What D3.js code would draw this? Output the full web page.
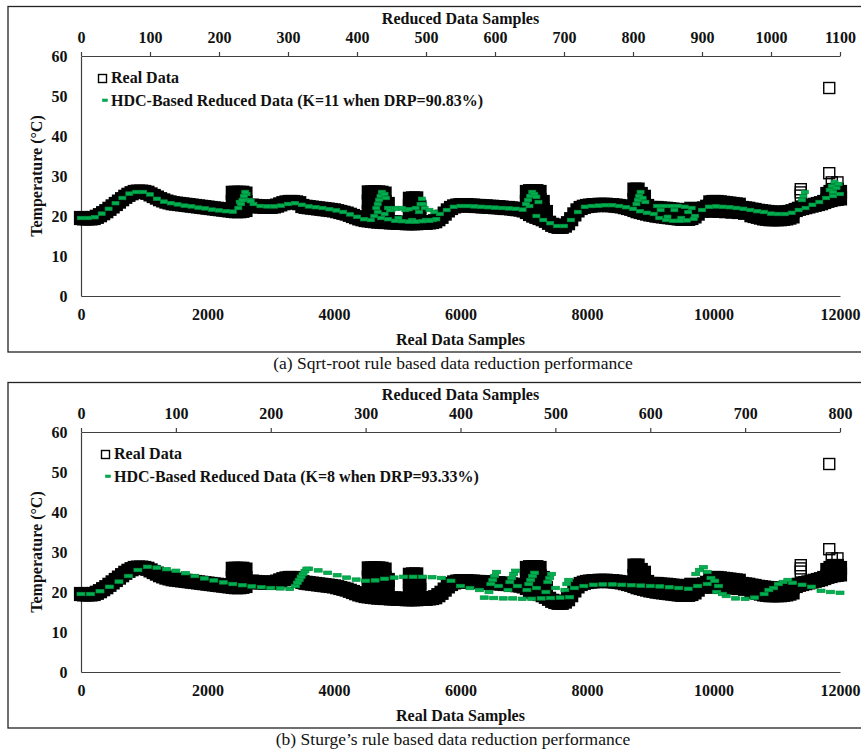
<!DOCTYPE html>
<html>
<head>
<meta charset="utf-8">
<script src="https://cdn.jsdelivr.net/npm/d3@7"></script>
<style>
  body { margin: 0; background: #fff; }
  svg { display: block; font-family: "Liberation Serif", "Times New Roman", serif; }
</style>
</head>
<body>
<div id="chart"></div>
<script>
// Real data, one reading every 50 samples (0 .. 12000).
const realStep = 50;
const realTemp = [
  19.5,19.4,19.4,19.4,19.5,19.8,20.2,20.7,21.2,21.8,22.4,23.0,23.6,24.2,24.8,25.3,25.7,26.0,26.1,26.1,
  26.0,25.8,25.4,25.0,24.6,24.2,23.9,23.6,23.4,23.2,23.1,23.0,22.9,22.8,22.7,22.6,22.5,22.4,22.3,22.2,
  22.1,22.0,21.9,21.8,21.7,21.6,21.5,21.4,21.3,21.2,21.2,21.3,21.5,22.5,22.6,22.5,22.4,22.4,22.3,22.3,
  22.3,22.4,22.6,22.9,23.2,23.4,23.5,23.5,23.4,23.2,22.5,22.3,22.2,22.1,22.0,21.9,21.8,21.7,21.6,21.5,
  21.4,21.2,21.0,20.8,20.6,20.3,20.0,19.7,19.4,19.2,19.0,18.9,18.8,18.7,18.6,18.6,18.5,18.5,18.4,18.4,
  18.3,18.3,18.3,18.2,18.2,18.2,18.2,18.3,18.3,18.3,18.4,18.5,18.7,19.2,19.8,20.6,21.4,22.0,22.4,22.6,
  22.7,22.7,22.7,22.6,22.6,22.5,22.5,22.4,22.4,22.3,22.3,22.2,22.2,22.1,22.0,22.0,21.9,21.8,21.7,21.6,
  21.4,21.0,20.5,20.1,19.8,19.5,19.2,18.8,18.3,17.8,17.5,17.3,17.3,17.6,18.2,19.2,20.4,21.4,22.0,22.3,
  22.5,22.6,22.7,22.7,22.8,22.8,22.8,22.7,22.7,22.6,22.5,22.4,22.2,22.0,21.8,21.5,21.2,21.0,20.8,20.6,
  20.4,20.3,20.1,20.0,19.9,19.8,19.7,19.6,19.5,19.4,19.3,19.3,19.3,19.5,19.9,20.6,21.3,21.9,22.3,22.5,
  22.6,22.6,22.5,22.5,22.4,22.4,22.3,22.2,22.1,22.0,21.9,21.8,21.6,21.5,21.3,21.2,21.1,21.0,20.9,20.8,
  20.8,20.8,20.8,20.9,21.0,21.2,21.5,21.8,22.0,22.2,22.4,22.6,22.8,23.0,23.2,23.5,23.8,24.0,24.2,24.3,
  24.4
];

// Extra real readings [sample, temp] where the signal swings between two levels.
const realBlocks = [
  [2400,23.5],[2400,25.8],[2450,23.5],[2450,25.8],[2500,23.5],[2500,25.8],
  [2550,23.5],[2550,25.8],[2600,23.5],[2600,25.6],
  [4550,21.0],[4550,23.5],[4550,25.9],[4600,21.0],[4600,23.5],[4600,25.9],
  [4650,21.0],[4650,23.5],[4650,25.9],[4700,21.0],[4700,23.5],[4700,25.9],
  [4750,21.0],[4750,23.5],[4750,25.8],[4800,21.0],[4800,23.5],[4800,25.6],
  [4850,21.0],[4850,23.0],
  [5200,20.5],[5200,22.5],[5200,24.3],[5250,20.5],[5250,22.5],[5250,24.4],
  [5300,20.5],[5300,22.5],[5300,24.4],[5350,20.5],[5350,22.3],
  [7050,23.5],[7050,26.0],[7100,22.5],[7100,24.5],[7100,26.2],[7150,22.0],[7150,24.0],[7150,26.2],
  [7200,22.0],[7200,24.0],[7200,26.2],[7250,22.0],[7250,24.0],[7250,26.0],
  [7300,21.5],[7300,23.5],[7350,21.0],
  [8750,24.0],[8750,26.6],[8800,23.5],[8800,26.6],[8850,23.0],[8850,25.5],
  [8900,22.8],[8900,24.8],[8950,22.5],
  [9000,22.0],[9050,22.0],[9100,22.0],[9150,21.9],[9200,21.8],[9250,21.8],[9300,21.7],
  [9350,21.6],[9400,21.5],[9450,21.5],[9500,21.4],[9550,21.4],[9600,21.5],[9650,21.8],
  [9950,23.4],[10000,23.5],[10050,23.5],[10100,23.4],[10150,23.3],[10200,23.2],[10250,23.1],
  [10300,23.0],[10350,22.9],[10400,22.8],
  [10000,21.3],[10100,21.3],[10200,21.2],[10300,21.1],[10400,21.0],[10500,20.8],
  [10600,20.2],[10650,20.0],[10700,19.8],[10750,19.6],[10800,19.4],[10850,19.3],[10900,19.2],
  [10950,19.2],[11000,19.2],[11050,19.2],[11100,19.3],[11150,19.4],[11200,19.6],[11250,19.9],
  [11800,25.5],[11850,26.0],[11900,26.5],[11950,26.5],[12000,26.0]
];
// Isolated real readings (drawn as open squares).
const realOutliers = [
  [11380,25.1],[11380,25.9],[11380,26.7],
  [11870,28.4],[11960,28.4],[11830,30.7],[11830,52.0]
];

// Reduced data (a), K=11: one reading every 10 reduced samples (0 .. 1100).
const reducedStep = 10;
const reducedTempA = [
  19.5,19.5,19.7,20.6,21.8,23.2,24.5,25.6,26.0,26.0,25.4,
  24.3,23.6,23.2,22.9,22.6,22.4,22.1,21.9,21.6,21.4,
  21.2,21.1,23.5,25.5,23.0,22.5,22.4,22.4,22.6,23.0,
  23.2,22.8,22.4,22.2,22.0,21.7,21.4,21.0,20.4,19.8,
  19.2,19.0,21.0,20.5,21.5,19.5,21.5,19.0,21.0,19.0,
  19.0,20.5,21.5,22.3,22.5,22.5,22.4,22.3,22.2,22.1,
  22.0,21.9,21.8,21.6,22.5,20.0,19.0,18.2,17.5,17.5,
  19.0,21.0,22.3,22.5,22.6,22.7,22.7,22.5,22.2,21.8,
  21.2,20.8,20.5,21.5,19.8,21.5,19.5,21.0,20.0,21.5,
  22.3,22.4,22.3,22.2,22.0,21.8,21.5,21.2,21.0,20.6,
  20.5,20.5,20.8,21.5,22.0,22.8,23.5,24.5,25.0,25.5
];
const reducedExtraA = [
  [228,22.0],[232,23.0],[234,24.0],[236,25.0],[238,26.0],[244,24.0],[246,23.7],
  [425,20.0],[428,22.0],[430,23.0],[432,24.0],[434,25.0],[436,26.0],[440,25.5],[442,24.5],
  [445,22.0],[448,21.5],[455,22.0],[458,21.8],[465,22.0],[475,21.7],[485,22.0],
  [492,23.0],[494,24.3],[496,23.0],[498,22.0],[505,21.5],[512,21.0],[515,19.2],
  [435,19.5],[445,19.2],[455,18.8],[465,18.7],[475,18.6],[485,18.6],[495,18.7],[505,18.8],
  [645,23.0],[648,24.0],[651,25.0],[654,26.0],[657,25.5],[660,24.8],[663,23.5],
  [805,23.0],[807,24.0],[809,25.0],[811,26.0],[814,24.5],[818,23.5],
  [835,22.5],[845,22.5],[855,22.5],[865,22.5],[875,22.3],[885,22.0],
  [838,19.5],[848,19.0],[858,18.8],[868,18.8],[878,18.9],[888,19.3],
  [1045,24.0],[1047,25.0],[1049,26.0],[1085,26.5],[1088,27.5],[1092,28.5],[1095,27.0],[1098,28.0],[1090,26.0]
];

// Reduced data (b), K=8: one reading every 10 reduced samples (0 .. 800).
const reducedTempB = [
  19.5,19.5,20.2,21.3,22.6,24.0,25.5,26.3,26.1,25.7,
  25.3,24.7,24.0,23.4,22.9,22.4,22.0,21.7,21.4,21.2,
  21.0,20.9,20.8,23.0,25.8,25.4,24.8,24.2,23.6,23.1,
  22.8,22.9,23.3,23.6,23.8,23.8,23.8,23.7,23.5,22.8,
  21.5,21.0,20.5,20.0,21.5,20.5,21.5,20.5,21.0,20.0,
  21.0,20.5,21.0,21.5,21.8,21.9,21.9,21.8,21.7,21.6,
  21.5,21.4,21.2,21.0,20.8,21.5,22.0,20.0,19.0,18.4,
  18.3,18.6,19.5,21.0,22.5,22.3,21.8,21.3,20.3,20.0,
  19.8
];
const reducedExtraB = [
  [226,21.5],[228,22.3],[232,23.8],[234,24.5],[236,25.2],[238,25.8],
  [425,18.6],[435,18.5],[445,18.4],[455,18.4],[465,18.3],[475,18.3],[485,18.4],[495,18.5],[505,18.6],[515,18.7],
  [432,22.0],[434,23.0],[436,24.0],[438,25.0],[452,22.5],[454,23.5],[456,24.5],[458,25.3],
  [472,22.0],[474,23.0],[476,24.0],[478,24.8],[492,22.5],[494,23.5],[496,24.5],[512,22.0],[514,23.0],
  [648,24.5],[652,25.5],[656,26.2],[660,25.0],[664,23.5],[668,22.8],[672,21.5],[676,19.5],
  [725,20.5],[735,22.0],[745,23.0]
];

// Tick labels.
const realTicks = [0, 2000, 4000, 6000, 8000, 10000, 12000];
const reducedTicksA = [0, 100, 200, 300, 400, 500, 600, 700, 800, 900, 1000, 1100];
const reducedTicksB = [0, 100, 200, 300, 400, 500, 600, 700, 800];
const tempTicks = [0, 10, 20, 30, 40, 50, 60];

const width = 861;
const height = 751;

const svg = d3.select("#chart").append("svg")
    .attr("width", width)
    .attr("height", height);

drawPanel({
    frameTop: 6.5, frameBottom: 352, top: 56, bottom: 296,
    reducedMax: 1100, reducedTicks: reducedTicksA,
    reducedTemp: reducedTempA, reducedExtra: reducedExtraA, dash: 7,
    legend: "HDC-Based Reduced Data (K=11 when DRP=90.83%)", legendX: 0,
    caption: "(a) Sqrt-root rule based data reduction performance"
});

drawPanel({
    frameTop: 382.5, frameBottom: 728, top: 432, bottom: 672,
    reducedMax: 800, reducedTicks: reducedTicksB,
    reducedTemp: reducedTempB, reducedExtra: reducedExtraB, dash: 8,
    legend: "HDC-Based Reduced Data (K=8 when DRP=93.33%)", legendX: 3,
    caption: "(b) Sturge\u2019s rule based data reduction performance"
});


/*
Draw one framed panel: two x axes (real / reduced samples), temperature axis, both series.
*/
function drawPanel(p) {
    const x = d3.scaleLinear().domain([0, 12000]).range([81, 840]);
    const xTop = d3.scaleLinear().domain([0, p.reducedMax]).range([81, 840]);
    const y = d3.scaleLinear().domain([0, 60]).range([p.bottom, p.top]);
    const fmt = d3.format("d");
    const g = svg.append("g");

    // Frame (its right edge lies outside the picture).
    g.append("rect")
        .attr("x", 8).attr("y", p.frameTop)
        .attr("width", 880).attr("height", p.frameBottom - p.frameTop)
        .attr("fill", "none").attr("stroke", "#222").attr("stroke-width", 1.3);

    // Axes.
    const bottomAxis = g.append("g")
        .attr("transform", `translate(0,${p.bottom})`)
        .call(d3.axisBottom(x).tickValues(realTicks).tickFormat(fmt).tickSize(0).tickPadding(13));
    const topAxis = g.append("g")
        .attr("transform", `translate(0,${p.top})`)
        .call(d3.axisTop(xTop).tickValues(p.reducedTicks).tickFormat(fmt)
            .tickSizeInner(4).tickSizeOuter(0).tickPadding(9.5));
    const leftAxis = g.append("g")
        .attr("transform", "translate(81,0)")
        .call(d3.axisLeft(y).tickValues(tempTicks).tickFormat(fmt).tickSize(0).tickPadding(13.5));

    [bottomAxis, topAxis, leftAxis].forEach(a => {
        a.attr("font-family", null).attr("font-size", null);
        a.selectAll("path, line").attr("stroke", "#404040").attr("stroke-width", 1.2);
        a.selectAll("text")
            .attr("fill", "#111")
            .style("font-size", "16px")
            .style("font-weight", "bold");
    });

    // Axis titles.
    const title = (sel) => sel.attr("fill", "#111").style("font-size", "16px").style("font-weight", "bold");
    g.append("text").attr("x", 460.5).attr("y", p.top - 32.5)
        .attr("text-anchor", "middle").text("Reduced Data Samples").call(title);
    g.append("text").attr("x", 460.5).attr("y", p.bottom + 48.5)
        .attr("text-anchor", "middle").text("Real Data Samples").call(title);
    g.append("text")
        .attr("transform", `translate(42,${(p.top + p.bottom) / 2}) rotate(-90)`)
        .attr("text-anchor", "middle").text("Temperature (\u00B0C)").call(title);

    // Real data: 12000 overlapping squares merge into a solid black band.
    const real = realTemp.map((t, i) => [i * realStep, t]).concat(realBlocks);
    g.append("g")
        .selectAll("rect")
        .data(real)
        .join("rect")
            .attr("x", d => x(d[0]) - 5.5)
            .attr("y", d => y(d[1]) - 5.5)
            .attr("width", 11)
            .attr("height", 11)
            .attr("fill", "#000")
            .attr("stroke", "#000")
            .attr("stroke-width", 3.2);

    g.append("g")
        .selectAll("rect")
        .data(realOutliers)
        .join("rect")
            .attr("x", d => x(d[0]) - 5.5)
            .attr("y", d => y(d[1]) - 5.5)
            .attr("width", 11)
            .attr("height", 11)
            .attr("fill", "none")
            .attr("stroke", "#000")
            .attr("stroke-width", 1.4);

    // Reduced data: green dashes, placed on the reduced-sample axis.
    const reduced = p.reducedTemp.map((t, i) => [i * reducedStep, t]).concat(p.reducedExtra);
    g.append("g")
        .selectAll("rect")
        .data(reduced)
        .join("rect")
            .attr("x", d => xTop(d[0]) - p.dash / 2)
            .attr("y", d => y(d[1]) - 1.75)
            .attr("width", p.dash)
            .attr("height", 3.5)
            .attr("fill", "#00b050")
            .attr("stroke", "#00923f")
            .attr("stroke-width", 0.7);

    // Legend.
    const lx = p.legendX;
    const ly = p.top;
    g.append("rect")
        .attr("x", 98.5 + lx).attr("y", ly + 18.5).attr("width", 8).attr("height", 8)
        .attr("fill", "#fff").attr("stroke", "#000").attr("stroke-width", 1.4);
    g.append("text").attr("x", 111 + lx).attr("y", ly + 27)
        .text("Real Data").call(title);
    g.append("rect")
        .attr("x", 102.5 + lx).attr("y", ly + 43).attr("width", 5).attr("height", 2.6)
        .attr("fill", "#00b050").attr("stroke", "#00923f").attr("stroke-width", 0.5);
    g.append("text").attr("x", 111 + lx).attr("y", ly + 50)
        .text(p.legend).call(title);

    // Caption under the frame.
    svg.append("text")
        .attr("x", 453).attr("y", p.frameBottom + 17)
        .attr("text-anchor", "middle")
        .attr("fill", "#111")
        .style("font-size", "17.5px")
        .text(p.caption);
}
</script>
</body>
</html>
